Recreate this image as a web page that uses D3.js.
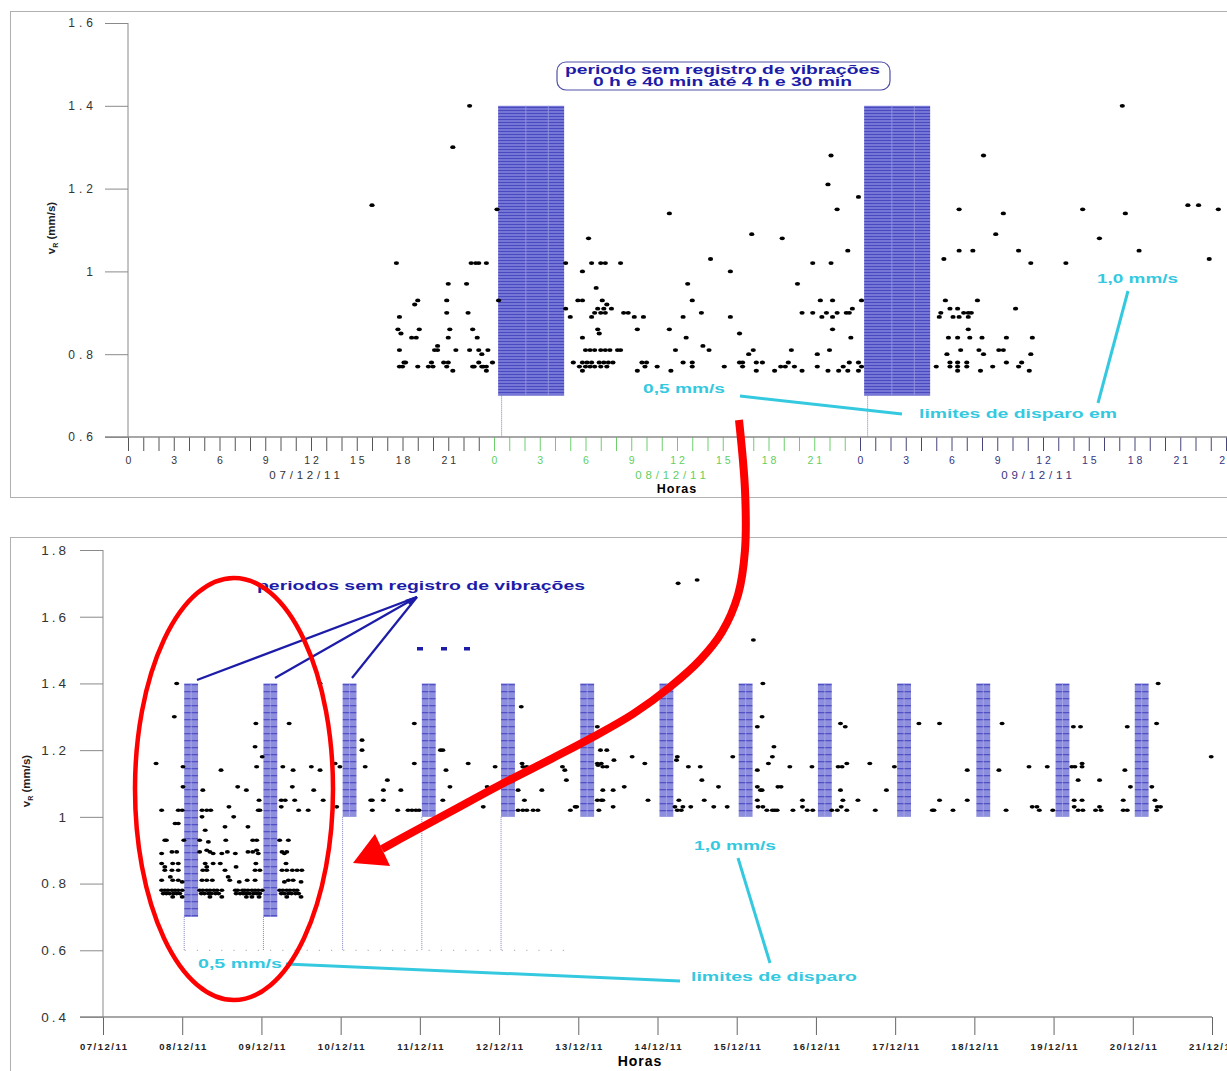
<!DOCTYPE html>
<html><head><meta charset="utf-8">
<script src="https://cdn.jsdelivr.net/npm/d3@7"></script>
<style>body{margin:0;background:#fff}svg{display:block}text{font-family:"Liberation Sans",Arial,sans-serif}</style>
</head><body><svg id="c" width="1227" height="1071"></svg>
<script>
// ---------------- DATA ----------------
const topYTicks = [0.6, 0.8, 1.0, 1.2, 1.4, 1.6];
const topDayLabels = ["07/12/11", "08/12/11", "09/12/11"];
const topGapDays = [1, 2];            // days (after 07/12) with a recording gap
const topBlockHours = [0.27, 4.6];   // hatched block, hours after midnight
const topGapStartHour = 0.5;         // dotted line at start of gap
const topBlockRange = [0.7, 1.4];    // mm/s
// [hour since 07/12/11 00:00, vR mm/s]
const topPoints = [
[16.0,1.16],[17.6,1.02],[17.7,0.86],[17.8,0.89],[17.8,0.81],[17.9,0.85],[17.8,0.77],[18.0,0.77],[18.1,0.78],[18.2,0.78],
[18.6,0.84],[18.8,0.92],[18.9,0.84],[19.0,0.93],[19.0,0.77],[19.1,0.86],
[19.7,0.77],[19.9,0.78],[20.0,0.77],[20.1,0.81],[20.3,0.81],[20.3,0.82],
[20.7,0.78],[20.9,0.77],[21.0,0.78],[20.9,0.93],[20.9,0.90],[21.0,0.97],[21.1,0.86],[21.0,0.84],[21.3,0.76],[21.5,0.81],[21.3,1.30],
[22.2,0.97],[22.3,0.90],[22.4,1.40],[22.4,0.81],[22.5,1.02],[22.6,0.86],[22.6,0.77],[22.7,0.77],[22.8,1.02],[22.9,0.84],[23.0,1.02],
[23.0,0.81],[23.0,0.78],[23.2,0.80],[23.2,0.77],[23.3,0.77],[23.5,1.02],[23.5,0.76],[23.5,0.77],[23.6,0.81],[23.9,0.78],
[24.2,1.15],[24.3,0.93],
[28.7,1.02],[28.7,0.91],[29.0,0.89],[29.2,0.78],[29.5,0.93],[29.8,0.93],[29.8,1.00],[29.8,0.84],[29.8,0.78],[29.8,0.76],[29.6,0.77],
[30.0,0.81],[30.0,0.77],[30.1,0.78],[30.2,1.08],[30.3,0.81],[30.3,0.77],[30.4,1.02],[30.4,0.89],[30.4,0.78],[30.6,0.90],[30.6,0.81],
[30.6,0.77],[30.7,0.96],[30.8,0.91],[30.8,0.86],[30.9,0.85],[30.9,0.78],[31.0,1.02],[31.0,0.90],[31.0,0.81],[31.0,0.77],[31.1,0.93],
[31.2,0.91],[31.2,0.78],[31.3,1.02],[31.3,0.90],[31.3,0.81],[31.4,0.92],[31.4,0.77],[31.5,0.78],[31.6,0.81],[31.7,0.91],[31.8,0.78],
[32.1,0.81],[32.3,0.81],[32.3,1.02],[32.5,0.90],[32.8,0.90],[33.2,0.89],[33.4,0.86],[33.4,0.76],[33.7,0.78],[33.8,0.89],[33.9,0.77],
[34.0,0.78],[34.7,0.77],[35.5,1.14],[35.5,0.86],[35.6,0.76],[35.9,0.81],[36.4,0.78],[36.4,0.89],[36.6,0.84],[36.7,0.97],[37.0,0.93],
[37.0,0.78],[37.0,0.77],[37.6,0.90],[37.7,0.82],[38.1,0.81],[38.2,1.03],[39.1,0.77],[39.5,1.00],[39.5,0.89],[40.1,0.85],[40.1,0.78],
[40.3,0.78],[40.3,0.77],[40.7,0.80],[41.0,0.81],[40.9,1.09],[41.2,0.78],[41.2,0.76],[41.6,0.78],[42.4,0.76],[42.9,1.08],[42.8,0.77],
[43.1,0.77],[43.3,0.78],[43.5,0.81],[43.9,0.97],[43.7,0.77],[44.2,0.90],[44.2,0.76],
[44.9,0.90],[44.9,1.02],[45.2,0.80],[45.2,0.77],[45.4,0.93],[45.5,0.89],[45.8,0.90],[45.9,1.21],[45.9,0.76],[46.1,1.28],[46.1,1.02],
[46.0,0.81],[46.2,0.93],[46.2,0.89],[46.2,0.86],[46.5,1.15],[46.5,0.90],[46.6,0.76],[46.9,0.77],[47.1,0.90],[47.2,1.05],[47.2,0.76],
[47.3,0.90],[47.3,0.78],[47.4,0.84],[47.5,0.91],[47.9,1.18],[47.9,0.78],[47.9,0.76],[48.1,0.93],[48.1,0.77],
[53.0,0.77],[53.2,0.89],[53.3,0.90],[53.5,1.03],[53.6,0.93],[53.7,0.80],[53.8,0.84],[53.9,0.91],[53.9,0.78],[53.9,0.77],[54.1,0.89],
[54.4,0.84],[54.4,0.91],[54.4,0.78],[54.4,0.77],[54.4,0.76],[54.5,1.15],[54.5,1.05],[54.5,0.89],[54.6,0.81],[54.8,0.90],[55.0,0.78],
[55.0,0.77],[55.1,0.90],[55.1,0.86],[55.1,0.89],[55.2,0.84],[55.3,0.90],[55.4,1.05],[55.7,0.93],[55.8,0.81],[55.9,0.76],[56.0,0.84],
[56.1,0.80],[56.1,1.28],[56.7,0.77],[56.9,1.09],[57.1,0.81],[57.4,1.14],[57.4,0.81],[57.6,0.84],[57.6,0.78],[58.2,0.91],[58.4,1.05],
[58.4,0.77],[58.6,0.78],[59.1,0.76],[59.2,1.02],[59.2,0.80],[59.3,0.84],
[61.5,1.02],[62.6,1.15],[63.7,1.08],[65.2,1.40],[65.4,1.14],[66.3,1.05],[69.5,1.16],[70.2,1.16],[70.9,1.03],[71.5,1.15]
];

const bottomYTicks = [0.4, 0.6, 0.8, 1.0, 1.2, 1.4, 1.6, 1.8];
const bottomDayLabels = ["07/12/11","08/12/11","09/12/11","10/12/11","11/12/11","12/12/11","13/12/11","14/12/11",
  "15/12/11","16/12/11","17/12/11","18/12/11","19/12/11","20/12/11","21/12/11"];
const bottomGapDays = [1,2,3,4,5,6,7,8,9,10,11,12,13];
const bottomGapLow  = [0.7,0.7,1.0,1.0,1.0,1.0,1.0,1.0,1.0,1.0,1.0,1.0,1.0];
const bottomGapHigh = 1.4;
const bottomBlockDays = [0.025, 0.2];     // block offset within the day
const bottomLineDays = [1,2,3,4,5];        // days with dotted drop line to 0,5 mm/s limit
const bottomDottedRange = [1.03, 5.9];
// [days since 07/12/11 00:00, vR mm/s]
const bottomPoints = [
[0.67,1.16],[0.93,1.40],[0.90,1.30],[1.01,1.15],[1.01,1.09],[1.26,1.08],[1.49,1.14],[1.70,1.09],[1.81,1.08],
[1.93,1.28],[1.92,1.21],[2.01,1.18],[1.94,1.15],[2.35,1.28],[2.27,1.15],[2.40,1.14],[2.63,1.15],[2.74,1.14],[2.39,1.09],[2.66,1.08],[2.74,1.40],
[1.97,1.05],[2.25,1.05],[2.30,1.05],[2.42,1.05],[2.78,1.05],[1.96,1.02],[1.98,1.02],[2.25,1.03],[2.47,1.02],[2.59,1.02],
[0.74,1.02],[0.95,1.02],[1.00,1.02],[1.25,1.02],[1.31,1.02],[1.36,1.02],[1.59,1.03],[1.25,1.00],[1.65,1.00],
[0.91,0.98],[0.95,0.98],[1.29,0.96],[1.54,0.97],[1.83,0.97],
[0.78,0.93],[0.80,0.93],[1.02,0.93],[1.22,0.93],[1.33,0.925],[1.55,0.93],[1.89,0.93],[1.94,0.93],[2.23,0.93],[2.34,0.93],
[0.74,0.89],[0.87,0.895],[0.93,0.895],[1.22,0.895],[1.31,0.90],[1.35,0.895],[1.39,0.89],[1.50,0.89],[1.57,0.895],[1.67,0.89],
[1.83,0.895],[1.89,0.895],[1.94,0.90],[1.96,0.89],[2.29,0.89],[2.26,0.895],[2.32,0.895],
[0.74,0.86],[0.78,0.85],[0.88,0.86],[0.95,0.86],[1.29,0.86],[1.31,0.85],[1.39,0.86],[1.48,0.86],[1.68,0.85],[1.93,0.86],[2.31,0.86],
[0.78,0.84],[0.87,0.84],[0.95,0.84],[1.26,0.84],[1.31,0.84],[1.54,0.84],[1.92,0.84],[1.98,0.84],[2.26,0.84],[2.32,0.84],[2.39,0.84],[2.45,0.84],[2.51,0.84],
[0.74,0.81],[0.85,0.82],[0.88,0.81],[0.95,0.81],[1.00,0.805],[1.25,0.81],[1.31,0.81],[1.38,0.81],[1.58,0.82],[1.60,0.81],[1.72,0.805],
[1.82,0.81],[1.92,0.81],[2.29,0.805],[2.34,0.81],[2.40,0.81],[2.50,0.805],
[0.74,0.78],[0.78,0.78],[0.82,0.78],[0.87,0.78],[0.91,0.78],[0.95,0.78],[1.00,0.78],[1.22,0.78],[1.26,0.78],[1.31,0.78],[1.35,0.78],
[1.40,0.78],[1.44,0.78],[1.50,0.78],[1.67,0.78],[1.70,0.78],[1.76,0.78],[1.79,0.78],[1.83,0.78],[1.88,0.78],[1.92,0.78],[1.96,0.78],
[2.01,0.78],[2.23,0.78],[2.27,0.78],[2.32,0.78],[2.36,0.78],[2.41,0.78],[2.45,0.78],
[0.76,0.77],[0.80,0.77],[0.84,0.77],[0.89,0.77],[0.93,0.77],[0.97,0.77],[1.24,0.77],[1.28,0.77],[1.33,0.77],[1.37,0.77],[1.42,0.77],
[1.46,0.77],[1.68,0.77],[1.73,0.77],[1.77,0.77],[1.81,0.77],[1.85,0.77],[1.90,0.77],[1.94,0.77],[1.98,0.77],[2.25,0.77],[2.29,0.77],
[2.34,0.77],[2.38,0.77],[2.43,0.77],[2.47,0.77],
[0.88,0.76],[1.00,0.76],[1.35,0.76],[1.50,0.76],[1.81,0.76],[1.88,0.76],[1.97,0.76],[2.32,0.76],[2.50,0.76],
[2.90,1.16],[2.93,1.16],[2.95,1.03],[2.99,1.15],
[3.27,1.23],[3.27,1.20],[3.31,1.15],[3.38,1.05],[3.40,1.05],[3.40,1.02],[3.54,1.08],[3.54,1.05],[3.59,1.11],[3.72,1.02],[3.76,1.08],
[3.85,1.02],[3.90,1.02],[3.95,1.02],[3.99,1.02],[3.93,1.28],[3.93,1.16],
[4.26,1.20],[4.29,1.20],[4.33,1.14],[4.38,1.09],[4.29,1.05],[4.61,1.16],[4.80,1.03],[4.85,1.09],[4.95,1.15],
[5.28,1.33],[5.29,1.16],[5.30,1.15],[5.35,1.15],[5.32,1.14],[5.24,1.08],[5.54,1.08],[5.32,1.05],[5.24,1.02],[5.30,1.02],[5.35,1.02],
[5.43,1.02],[5.49,1.02],[5.80,1.15],[5.83,1.14],[5.85,1.11],[5.90,1.02],[5.96,1.03],[5.98,1.03],
[6.24,1.27],[6.28,1.20],[6.36,1.20],[6.24,1.16],[6.29,1.16],[6.31,1.15],[6.36,1.15],[6.25,1.155],[6.45,1.17],[6.31,1.08],[6.44,1.08],
[6.24,1.05],[6.29,1.05],[6.31,1.05],[6.26,1.02],[6.58,1.09],[6.44,1.03],[6.68,1.18],[6.84,1.16],[6.88,1.05],
[7.26,1.70],[7.50,1.71],
[7.25,1.18],[7.24,1.17],[7.39,1.15],[7.54,1.15],[7.56,1.11],[7.77,1.09],[7.27,1.05],[7.59,1.05],[7.22,1.03],[7.25,1.02],[7.30,1.02],
[7.32,1.03],[7.42,1.03],[7.71,1.03],[7.88,1.03],[7.95,1.18],
[8.21,1.53],[8.33,1.40],[8.32,1.30],[8.26,1.27],[8.47,1.21],[8.45,1.18],[8.40,1.16],[8.26,1.14],[8.26,1.09],[8.30,1.08],[8.32,1.08],
[8.52,1.09],[8.26,1.05],[8.27,1.03],[8.33,1.03],[8.38,1.02],[8.45,1.02],[8.51,1.02],
[8.67,1.15],[8.95,1.15],[8.56,1.09],[8.83,1.05],[8.83,1.03],[8.48,1.02],[8.71,1.02],[8.89,1.02],[8.96,1.02],
[9.31,1.28],[9.37,1.27],[9.28,1.15],[9.33,1.15],[9.39,1.16],[9.68,1.16],[9.99,1.15],[9.31,1.08],[9.89,1.08],[9.34,1.05],[9.53,1.05],
[9.20,1.02],[9.27,1.02],[9.32,1.03],[9.39,1.02],[9.75,1.02],
[10.30,1.28],[10.56,1.28],[10.47,1.02],[10.49,1.02],[10.56,1.05],[10.73,1.02],[10.91,1.14],[10.91,1.05],
[11.31,1.14],[11.35,1.28],[11.40,1.02],[11.69,1.15],[11.92,1.15],[11.73,1.03],[11.79,1.03],[11.82,1.02],[11.99,1.02],
[12.23,1.15],[12.27,1.15],[12.36,1.16],[12.36,1.15],[12.25,1.27],[12.34,1.27],[12.31,1.11],[12.58,1.11],[12.26,1.05],[12.36,1.05],
[12.26,1.03],[12.31,1.02],[12.37,1.02],[12.53,1.02],[12.58,1.03],[12.60,1.02],
[12.93,1.27],[12.90,1.14],[12.97,1.09],[12.88,1.05],[12.88,1.02],[12.93,1.02],[13.24,1.09],[13.32,1.40],[13.30,1.28],[13.28,1.05],
[13.31,1.03],[13.35,1.03],[13.30,1.02],[13.99,1.18]
];

// ---------------- DRAW ----------------
const svg = d3.select("#c");
const FONT = '"Liberation Sans", Arial, sans-serif';
const NAVY = "#1c1ca8", CYAN = "#35c9e0", RED = "#ff0000", GREEN = "#5fcf5f", GRID = "#8a8a8a";

const defs = svg.append("defs");
const pT = defs.append("pattern").attr("id","hT").attr("patternUnits","userSpaceOnUse").attr("width",10).attr("height",3);
pT.append("rect").attr("width",10).attr("height",3).attr("fill","#7676d6");
pT.append("rect").attr("y",2).attr("width",10).attr("height",1).attr("fill","#4a4ac0");
const pB = defs.append("pattern").attr("id","hB").attr("patternUnits","userSpaceOnUse").attr("width",10).attr("height",7);
pB.append("rect").attr("width",10).attr("height",7).attr("fill","#8e8ede");
pB.append("rect").attr("y",5).attr("width",10).attr("height",1.3).attr("fill","#5252c6");

// frames
svg.append("rect").attr("x",10.5).attr("y",11.5).attr("width",1240).attr("height",486).attr("fill","none").attr("stroke","#b0b0b0");
svg.append("rect").attr("x",10.5).attr("y",537.5).attr("width",1240).attr("height",560).attr("fill","none").attr("stroke","#b0b0b0");

// ===== TOP CHART =====
const xT = d3.scaleLinear().domain([0,72]).range([128,1226]);
const yT = d3.scaleLinear().domain([0.6,1.6]).range([437,23]);
const dayColor = h => h < 24 ? "#333" : (h < 48 ? GREEN : "#35357f");
const tickColor = h => h < 24 ? "#555" : (h < 48 ? "#6ccf6c" : "#45457a");

const gyT = svg.append("g").attr("transform",`translate(${xT(0)},0)`)
  .call(d3.axisLeft(yT).tickValues(topYTicks).tickSize(23).tickPadding(8).tickFormat(d => String(+d.toFixed(1))));
gyT.select(".domain").remove();
gyT.selectAll("line").attr("stroke",GRID);
gyT.selectAll("text").attr("font-family",FONT).attr("font-size",12).attr("letter-spacing",4).attr("fill","#333");
svg.append("line").attr("x1",xT(0)).attr("x2",xT(0)).attr("y1",yT(1.6)).attr("y2",yT(0.6)).attr("stroke",GRID);

const gxT = svg.append("g").attr("transform",`translate(0,${yT(0.6)})`)
  .call(d3.axisBottom(xT).tickValues(d3.range(0,73)).tickSize(14).tickPadding(6)
    .tickFormat(h => h % 3 === 0 ? (h === 72 ? "24" : String(h % 24)) : ""));
gxT.select(".domain").remove();
gxT.selectAll(".tick line").attr("stroke", d => tickColor(d));
gxT.selectAll(".tick text").attr("font-family",FONT).attr("font-size",10.5).attr("letter-spacing",3)
  .attr("fill", d => dayColor(d === 72 ? 50 : d)).attr("dx",1.5);
svg.append("line").attr("x1",xT(0)-23).attr("x2",1227).attr("y1",yT(0.6)).attr("y2",yT(0.6)).attr("stroke",GRID).attr("stroke-width",1.3);

svg.selectAll(".tday").data(topDayLabels).enter().append("text")
  .attr("x",(d,i)=>xT(i*24+11.7)).attr("y",478.5).attr("text-anchor","middle")
  .attr("font-family",FONT).attr("font-size",11.5).attr("letter-spacing",3.8)
  .attr("fill",(d,i)=>dayColor(i*24+1)).text(d=>d);
svg.append("text").attr("x",xT(36)).attr("y",492.5).attr("text-anchor","middle").attr("font-family",FONT)
  .attr("font-weight","bold").attr("font-size",12.5).attr("letter-spacing",1).text("Horas");

function yLabel(x, y) {
  const t = svg.append("text").attr("transform",`translate(${x},${y}) rotate(-90)`).attr("text-anchor","middle")
    .attr("font-family",FONT).attr("font-weight","bold").attr("font-size",11.5).attr("fill","#222");
  t.append("tspan").text("v");
  t.append("tspan").attr("font-size",7).attr("dy",3).text("R");
  t.append("tspan").attr("dy",-3).text(" (mm/s)");
}
yLabel(55, 228);

// gap blocks
topGapDays.forEach(d => {
  const x0 = xT(d*24 + topBlockHours[0]), x1 = xT(d*24 + topBlockHours[1]);
  svg.append("rect").attr("x",x0).attr("y",yT(topBlockRange[1])).attr("width",x1-x0)
    .attr("height",yT(topBlockRange[0])-yT(topBlockRange[1])).attr("fill","url(#hT)");
  [0.42,0.76].forEach(f => svg.append("line").attr("x1",x0+(x1-x0)*f).attr("x2",x0+(x1-x0)*f)
    .attr("y1",yT(topBlockRange[1])).attr("y2",yT(topBlockRange[0])).attr("stroke","#9a9ae4").attr("stroke-width",0.8));
  svg.append("line").attr("x1",xT(d*24+topGapStartHour)).attr("x2",xT(d*24+topGapStartHour))
    .attr("y1",yT(topBlockRange[0])).attr("y2",yT(0.6)).attr("stroke","#7a7ab8").attr("stroke-width",1).attr("stroke-dasharray","1,1");
});

svg.append("g").selectAll("ellipse").data(topPoints).enter().append("ellipse")
  .attr("cx",d=>xT(d[0])).attr("cy",d=>yT(d[1])).attr("rx",2.6).attr("ry",1.9).attr("fill","#000");

// top annotation box
svg.append("rect").attr("x",557).attr("y",62).attr("width",333).attr("height",28).attr("rx",9)
  .attr("fill","#fff").attr("stroke","#5050a8").attr("stroke-width",1.2);
svg.append("text").attr("x",565).attr("y",74).attr("textLength",315).attr("lengthAdjust","spacingAndGlyphs")
  .attr("font-family",FONT).attr("font-weight","bold").attr("font-size",12.5).attr("fill",NAVY).text("periodo sem registro de vibrações");
svg.append("text").attr("x",593).attr("y",86).attr("textLength",259).attr("lengthAdjust","spacingAndGlyphs")
  .attr("font-family",FONT).attr("font-weight","bold").attr("font-size",12.5).attr("fill",NAVY).text("0 h e 40 min até 4 h e 30 min");

function cyanText(x, y, w, s) {
  svg.append("text").attr("x",x).attr("y",y).attr("textLength",w).attr("lengthAdjust","spacingAndGlyphs")
    .attr("font-family",FONT).attr("font-weight","bold").attr("font-size",12).attr("fill",CYAN).text(s);
}
function cyanLine(x1,y1,x2,y2){
  svg.append("line").attr("x1",x1).attr("y1",y1).attr("x2",x2).attr("y2",y2).attr("stroke",CYAN).attr("stroke-width",3);
}
cyanText(643, 393, 82, "0,5 mm/s");
cyanText(919, 418, 198, "limites de disparo em");
cyanText(1097, 283, 81, "1,0 mm/s");
cyanLine(740,396,902,414);
cyanLine(1128,291,1098,403);

// ===== BOTTOM CHART =====
const xB = d3.scaleLinear().domain([0,14]).range([103,1212]);
const yB = d3.scaleLinear().domain([0.4,1.8]).range([1017,550]);

const gyB = svg.append("g").attr("transform",`translate(${xB(0)},0)`)
  .call(d3.axisLeft(yB).tickValues(bottomYTicks).tickSize(23).tickPadding(11).tickFormat(d => String(+d.toFixed(1))));
gyB.select(".domain").remove();
gyB.selectAll("line").attr("stroke",GRID);
gyB.selectAll("text").attr("font-family",FONT).attr("font-size",13.5).attr("letter-spacing",3).attr("fill","#333");
svg.append("line").attr("x1",xB(0)).attr("x2",xB(0)).attr("y1",yB(1.8)).attr("y2",yB(0.4)).attr("stroke",GRID);

const gxB = svg.append("g").attr("transform",`translate(0,${yB(0.4)})`)
  .call(d3.axisBottom(xB).tickValues(d3.range(0,15)).tickSize(18).tickPadding(8).tickFormat(i => bottomDayLabels[i]));
gxB.select(".domain").remove();
gxB.selectAll(".tick line").attr("stroke","#666");
gxB.selectAll(".tick text").attr("font-family",FONT).attr("font-size",9.5).attr("font-weight","bold")
  .attr("letter-spacing",1.5).attr("fill","#222").attr("dx",0.75);
svg.append("line").attr("x1",xB(0)-23).attr("x2",xB(14)).attr("y1",yB(0.4)).attr("y2",yB(0.4)).attr("stroke",GRID).attr("stroke-width",1.3);
svg.append("text").attr("x",640).attr("y",1066).attr("text-anchor","middle").attr("font-family",FONT)
  .attr("font-weight","bold").attr("font-size",14).attr("letter-spacing",1).text("Horas");
yLabel(30, 781);

// drop lines + dotted limit line
bottomLineDays.forEach((d,i) => {
  svg.append("line").attr("x1",xB(d+bottomBlockDays[0])).attr("x2",xB(d+bottomBlockDays[0]))
    .attr("y1",yB(bottomGapLow[d-1])).attr("y2",yB(0.6)).attr("stroke","#8080bb").attr("stroke-width",1).attr("stroke-dasharray","1,1");
});
svg.append("line").attr("x1",xB(bottomDottedRange[0])).attr("x2",xB(bottomDottedRange[1]))
  .attr("y1",yB(0.6)).attr("y2",yB(0.6)).attr("stroke","#b8b8b8").attr("stroke-width",1.2).attr("stroke-dasharray","1.2,11");

bottomGapDays.forEach((d,i) => {
  const x0 = xB(d + bottomBlockDays[0]), x1 = xB(d + bottomBlockDays[1]);
  svg.append("rect").attr("x",x0).attr("y",yB(bottomGapHigh)).attr("width",x1-x0)
    .attr("height",yB(bottomGapLow[i])-yB(bottomGapHigh)).attr("fill","url(#hB)");
  svg.append("line").attr("x1",(x0+x1)/2).attr("x2",(x0+x1)/2).attr("y1",yB(bottomGapHigh)).attr("y2",yB(bottomGapLow[i]))
    .attr("stroke","#b0b0ec").attr("stroke-width",0.7);
});

svg.append("g").selectAll("ellipse").data(bottomPoints).enter().append("ellipse")
  .attr("cx",d=>xB(d[0])).attr("cy",d=>yB(d[1])).attr("rx",2.5).attr("ry",1.8).attr("fill","#000");

// bottom annotations
svg.append("text").attr("x",257).attr("y",590).attr("textLength",328).attr("lengthAdjust","spacingAndGlyphs")
  .attr("font-family",FONT).attr("font-weight","bold").attr("font-size",13).attr("fill",NAVY).text("periodos sem registro de vibrações");
[[197,680],[275,678],[352,678]].forEach(p => svg.append("line").attr("x1",417).attr("y1",597).attr("x2",p[0]).attr("y2",p[1])
  .attr("stroke",NAVY).attr("stroke-width",2.2));
svg.append("path").attr("d","M417,596 L405,600 L411,606 Z").attr("fill",NAVY);
[420,444,467].forEach(x => svg.append("rect").attr("x",x-3).attr("y",647).attr("width",6).attr("height",3.5).attr("fill",NAVY));

cyanText(198, 968, 84, "0,5 mm/s");
cyanText(691, 981, 166, "limites de disparo");
cyanText(694, 850, 82, "1,0 mm/s");
cyanLine(286,964,680,981);
cyanLine(738,858,770,963);

// red highlight
svg.append("ellipse").attr("cx",234).attr("cy",789).attr("rx",99).attr("ry",211)
  .attr("fill","none").attr("stroke",RED).attr("stroke-width",4.5);
const redPath = [[739,420],[745,490],[745,550],[738,595],[722,632],[700,660],[670,687],[633,714],[593,737],[553,758],[500,785],[450,812],[400,839],[382,849]];
svg.append("path").attr("d", d3.line().curve(d3.curveCatmullRom)(redPath))
  .attr("fill","none").attr("stroke",RED).attr("stroke-width",8).attr("stroke-linecap","butt");
svg.append("path").attr("d","M353,863 L375,834 L390,866 Z").attr("fill",RED);
</script></body></html>
